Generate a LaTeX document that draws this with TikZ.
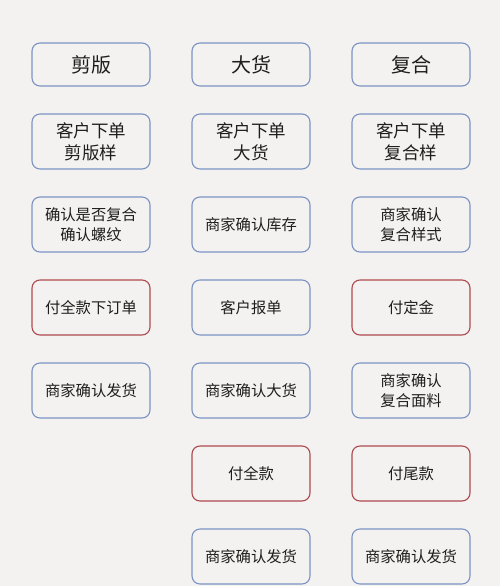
\documentclass[tikz,border=0pt]{standalone}
\usepackage{fontspec}
\setmainfont{Noto Sans CJK SC}
\definecolor{bg}{HTML}{F3F2F0}
\definecolor{bbox}{HTML}{7B93C2}
\definecolor{rbox}{HTML}{AE4A50}
\definecolor{ink}{HTML}{1E1E1E}
\begin{document}
\begin{tikzpicture}[x=1pt,y=-1pt,
  box/.style={draw=bbox, line width=1.1pt, rounded corners=8pt, minimum width=118pt, minimum height=55pt, align=center, inner sep=0pt, text=ink, font=\fontsize{15.3}{20.5}\selectfont},
  redbox/.style={box, draw=rbox},
  big/.style={font=\fontsize{17.5}{22}\selectfont},
  head/.style={box, minimum height=43pt, font=\fontsize{20}{24}\selectfont}]
\fill[bg] (0,0) rectangle (500,586);
\useasboundingbox (0,0) rectangle (500,586);
% row 1
\node[head] (a1) at (91,64.5) {剪版};
\node[head] (b1) at (251,64.5) {大货};
\node[head] (c1) at (411,64.5) {复合};
% row 2
\node[box,big] (a2) at (91,141.5) {客户下单\\剪版样};
\node[box,big] (b2) at (251,141.5) {客户下单\\大货};
\node[box,big] (c2) at (411,141.5) {客户下单\\复合样};
% row 3
\node[box] (a3) at (91,224.5) {确认是否复合\\确认螺纹};
\node[box] (b3) at (251,224.5) {商家确认库存};
\node[box] (c3) at (411,224.5) {商家确认\\复合样式};
% row 4
\node[redbox] (a4) at (91,307.5) {付全款下订单};
\node[box] (b4) at (251,307.5) {客户报单};
\node[redbox] (c4) at (411,307.5) {付定金};
% row 5
\node[box] (a5) at (91,390.5) {商家确认发货};
\node[box] (b5) at (251,390.5) {商家确认大货};
\node[box] (c5) at (411,390.5) {商家确认\\复合面料};
% row 6
\node[redbox] (b6) at (251,473.5) {付全款};
\node[redbox] (c6) at (411,473.5) {付尾款};
% row 7
\node[box] (b7) at (251,556.5) {商家确认发货};
\node[box] (c7) at (411,556.5) {商家确认发货};
\end{tikzpicture}
\end{document}
